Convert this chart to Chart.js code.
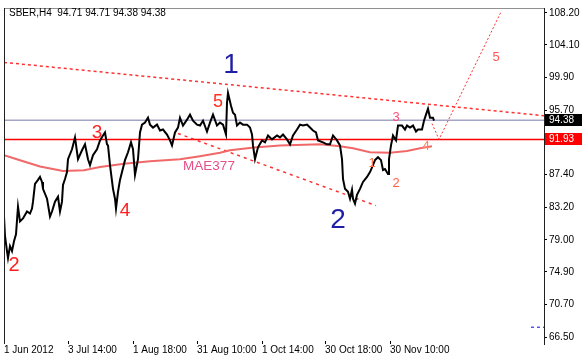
<!DOCTYPE html>
<html>
<head>
<meta charset="utf-8">
<script src="https://cdn.jsdelivr.net/npm/chart.js@4.4.0/dist/chart.umd.min.js"></script>
<style>
  html, body { margin: 0; padding: 0; background: #fff; }
  #chart { display: block; }
</style>
</head>
<body>
<canvas id="chart" width="582" height="356"></canvas>
<script>
// SBER H4 with wave count

const symbolTitle = 'SBER,H4  94.71 94.71 94.38 94.38';

// bar index (about one bar per pixel) and price
const priceBars = [0, 1, 3, 4, 6, 8, 10, 12, 14, 16, 19, 23, 26, 28, 29, 31, 34, 36, 38, 39,
  43, 46, 48, 51, 54, 56, 58, 59, 61, 63, 64, 68, 71, 74, 78, 81, 84, 86, 89, 93,
  96, 99, 101, 103, 104, 106, 109, 111, 112, 114, 116, 118, 121, 124, 127, 129, 131, 134, 136, 138,
  141, 144, 146, 149, 153, 156, 159, 163, 166, 168, 171, 174, 176, 179, 183, 186, 189, 193, 196, 199,
  203, 206, 209, 213, 216, 219, 222, 223, 224, 227, 229, 231, 233, 236, 239, 243, 246, 248, 249, 251,
  254, 258, 261, 264, 268, 273, 276, 279, 283, 286, 289, 293, 296, 299, 303, 306, 309, 312, 314, 319,
  323, 326, 329, 333, 336, 338, 339, 341, 344, 346, 348, 349, 351, 353, 356, 359, 363, 366, 369, 371,
  374, 377, 379, 381, 384, 385, 387, 389, 392, 394, 398, 401, 403, 406, 409, 412, 414, 418, 420, 422,
  424, 426, 429, 430];
const priceValues = [82.01, 79.47, 77.56, 76.67, 78.20, 77.56, 78.83, 79.72, 83.28, 81.38, 81.76, 82.65, 82.39, 83.03, 83.92, 86.21, 86.72, 87.10, 86.46, 85.57,
  84.30, 82.01, 82.65, 83.92, 84.55, 82.65, 83.92, 86.08, 86.84, 87.73, 89.38, 90.66, 92.18, 89.38, 90.53, 91.29, 89.38, 88.62, 89.89, 90.66,
  91.80, 92.44, 92.82, 91.29, 91.16, 88.62, 85.57, 84.30, 83.03, 85.19, 86.72, 87.73, 89.26, 90.27, 91.55, 90.66, 87.35, 89.38, 92.82, 93.83,
  94.09, 94.72, 93.83, 93.45, 93.83, 93.07, 93.20, 92.56, 91.80, 91.16, 92.82, 93.45, 94.72, 93.71, 94.47, 95.11, 94.34, 93.83, 93.71, 94.34,
  92.94, 94.09, 95.11, 93.71, 94.09, 93.83, 92.56, 96.63, 97.90, 96.25, 95.36, 95.11, 93.71, 94.09, 93.83, 93.83, 93.45, 92.56, 91.16, 89.38,
  90.91, 91.80, 91.55, 92.44, 91.93, 92.44, 92.18, 92.56, 91.93, 91.29, 92.44, 93.20, 93.83, 93.71, 93.83, 93.45, 93.07, 92.82, 91.80, 91.55,
  91.29, 91.29, 92.44, 91.80, 91.16, 89.38, 86.84, 85.57, 85.19, 84.30, 85.44, 84.30, 83.66, 84.81, 85.57, 86.46, 87.10, 87.73, 88.62, 89.26,
  89.64, 89.26, 87.99, 88.11, 87.48, 89.38, 91.16, 92.44, 91.80, 93.71, 93.71, 93.20, 93.71, 93.45, 93.71, 92.94, 93.20, 93.20, 94.34, 95.11,
  95.87, 94.72, 94.72, 94.34];

// moving average MAE377
const maBars = [0, 16, 36, 59, 80, 96, 120, 146, 176, 196, 216, 226, 250, 276, 316, 336, 349, 366, 386, 403, 416, 428];
const maValues = [89.89, 89.25, 88.45, 87.86, 87.95, 88.37, 88.80, 89.13, 89.38, 89.77, 90.20, 90.53, 90.90, 91.16, 91.29, 91.05, 90.80, 90.27, 90.20, 90.45, 90.78, 91.04];

const lastPrice = 94.38;
const levelPrice = 91.93;
const chartStartBar = 0;
const chartEndBar = 540;

const upperTrendBars = [0, 540];
const upperTrendValues = [101.84, 94.98];
const lowerTrendBars = [174, 372];
const lowerTrendValues = [92.69, 83.41];
const forecastBars = [428, 435, 497];
const forecastValues = [93.96, 91.93, 108.33];
const blueLevelBars = [527, 540];
const blueLevelValues = [67.77, 67.77];

const dateTickBars = [0, 64, 129, 193, 258, 321, 386];
const dateTickLabels = ['1 Jun 2012', '3 Jul 14:00', '1 Aug 18:00', '31 Aug 10:00', '1 Oct 14:00', '30 Oct 18:00', '30 Nov 10:00'];
const priceTicks = [108.20, 104.10, 99.90, 95.70, 91.50, 87.40, 83.20, 79.00, 74.90, 70.70, 66.50];

// wave marks
const waveText = ['1', '2', '2', '3', '4', '5', '1', '2', '3', '4', '5', 'MAE377'];
const waveBars = [227, 334, 10, 93, 121, 214, 368, 392, 392, 422, 492, 205];
const wavePrices = [101.72, 81.88, 75.91, 92.94, 82.90, 96.99, 89.00, 86.46, 94.85, 91.16, 102.61, 88.62];

const waveStyle = [
  { size: 28, color: '#1f1fa5' }, { size: 28, color: '#1f1fa5' },
  { size: 20, color: '#ff2020' }, { size: 19, color: '#ff2020' }, { size: 19, color: '#ff2020' }, { size: 18, color: '#ff3020' },
  { size: 13, color: '#ff7048' }, { size: 13, color: '#ff6048' }, { size: 13, color: '#f8507a' }, { size: 13, color: '#ff8058' },
  { size: 13, color: '#ff5858' }, { size: 13.5, color: '#e4508a', font: true }
];

function pairs(xs, ys) {
  return xs.map((x, i) => ({ x: x, y: ys[i] }));
}

const mtDecor = {
  id: 'mtDecor',
  afterDatasetsDraw(chart) {
    const ctx = chart.ctx;
    const xs = chart.scales.x, ys = chart.scales.y;
    ctx.save();
    ctx.textAlign = 'center';
    ctx.textBaseline = 'alphabetic';
    waveText.forEach((t, i) => {
      const st = waveStyle[i];
      ctx.font = st.size + 'px "Liberation Sans", Arial, sans-serif';
      ctx.fillStyle = st.color;
      const px = xs.getPixelForValue(waveBars[i]);
      const py = ys.getPixelForValue(wavePrices[i]);
      ctx.fillText(t, px, py + st.size * 0.36);
    });
    ctx.restore();
  },
  afterDraw(chart) {
    const ctx = chart.ctx;
    const a = chart.chartArea;
    const ys = chart.scales.y;
    ctx.save();
    // frame
    ctx.lineWidth = 1;
    ctx.strokeStyle = '#909090';
    ctx.beginPath();
    ctx.moveTo(a.left, a.top + 0.5);
    ctx.lineTo(a.right, a.top + 0.5);
    ctx.stroke();
    ctx.strokeStyle = '#202020';
    ctx.beginPath();
    ctx.moveTo(a.left + 0.5, a.top);
    ctx.lineTo(a.left + 0.5, a.bottom + 3);
    ctx.moveTo(a.right + 0.5, a.top);
    ctx.lineTo(a.right + 0.5, a.bottom + 4);
    ctx.stroke();

    // price markers
    ctx.font = '10px "Liberation Sans", Arial, sans-serif';
    ctx.textBaseline = 'middle';
    ctx.textAlign = 'left';
    [[lastPrice, '#000000'], [levelPrice, '#ff0000']].forEach(([v, c]) => {
      const py = Math.round(ys.getPixelForValue(v));
      ctx.fillStyle = c;
      ctx.fillRect(a.right + 1, py - 6, chart.width - a.right - 1, 12);
      ctx.fillStyle = '#ffffff';
      ctx.fillText(v.toFixed(2), a.right + 5, py + 0.5);
    });

    // title
    ctx.fillStyle = '#000000';
    ctx.font = '10px "Liberation Sans", Arial, sans-serif';
    ctx.fillText(symbolTitle, 9, 13);
    ctx.restore();
  }
};

const lineBase = { pointRadius: 0, tension: 0, fill: false };

new Chart(document.getElementById('chart'), {
  type: 'line',
  data: {
    datasets: [
      Object.assign({ data: pairs(priceBars, priceValues), borderColor: '#000000', borderWidth: 2 }, lineBase),
      Object.assign({ data: pairs(maBars, maValues), borderColor: '#f26868', borderWidth: 2 }, lineBase),
      Object.assign({ data: pairs(upperTrendBars, upperTrendValues), borderColor: '#ff3030', borderWidth: 1.5, borderDash: [3, 3] }, lineBase),
      Object.assign({ data: pairs(lowerTrendBars, lowerTrendValues), borderColor: '#ff3030', borderWidth: 1.5, borderDash: [3, 4] }, lineBase),
      Object.assign({ data: pairs(forecastBars, forecastValues), borderColor: '#ff3030', borderWidth: 1, borderDash: [2, 2] }, lineBase),
      Object.assign({ data: pairs(blueLevelBars, blueLevelValues), borderColor: '#0000ff', borderWidth: 1, borderDash: [3, 3] }, lineBase),
      Object.assign({ data: pairs([chartStartBar, chartEndBar], [levelPrice, levelPrice]), borderColor: '#ff0000', borderWidth: 1.5 }, lineBase),
      Object.assign({ data: pairs([chartStartBar, chartEndBar], [lastPrice, lastPrice]), borderColor: '#a4a4c4', borderWidth: 1.5 }, lineBase)
    ]
  },
  options: {
    responsive: false,
    animation: false,
    events: [],
    layout: { padding: { left: 4, top: 4, right: 0, bottom: 0 } },
    plugins: { legend: { display: false }, tooltip: { enabled: false } },
    scales: {
      x: {
        type: 'linear',
        min: chartStartBar,
        max: chartEndBar,
        border: { display: false },
        grid: { drawOnChartArea: false, drawTicks: true, tickLength: 3, color: '#000' },
        afterBuildTicks: (s) => { s.ticks = dateTickBars.map(v => ({ value: v })); },
        afterFit: (s) => { s.height = 15; },
        ticks: {
          autoSkip: false,
          maxRotation: 0,
          align: 'start',
          padding: 0,
          color: '#000',
          font: { family: '"Liberation Sans", Arial, sans-serif', size: 10 },
          callback: (v) => dateTickLabels[dateTickBars.indexOf(v)]
        }
      },
      y: {
        position: 'right',
        min: 65.991,
        max: 108.836,
        border: { display: false },
        grid: { drawOnChartArea: false, drawTicks: true, tickLength: 3, color: '#000' },
        afterBuildTicks: (s) => { s.ticks = priceTicks.map(v => ({ value: v })); },
        afterFit: (s) => { s.width = 38; },
        ticks: {
          autoSkip: false,
          padding: 2,
          color: '#000',
          font: { family: '"Liberation Sans", Arial, sans-serif', size: 10 },
          callback: (v) => v.toFixed(2)
        }
      }
    }
  },
  plugins: [mtDecor]
});
</script>
</body>
</html>
